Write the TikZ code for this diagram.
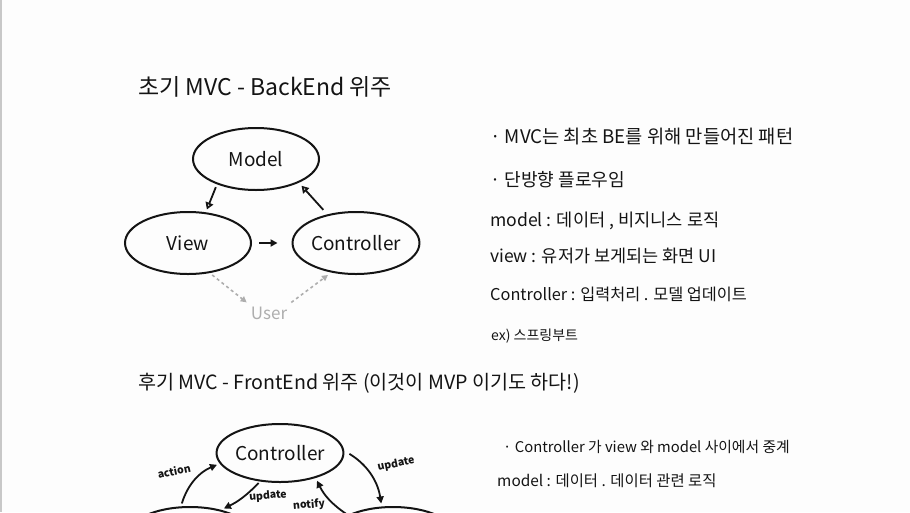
\documentclass[tikz,border=0pt]{standalone}
\usepackage{fontspec}
\setmainfont{Noto Sans CJK KR}
\usetikzlibrary{arrows.meta, positioning, shapes.geometric}
\definecolor{paper}{HTML}{FDFDFD}
\definecolor{edge}{HTML}{C8C8C8}
\definecolor{ink}{HTML}{141414}
\definecolor{faint}{HTML}{AEAEAE}

\begin{document}
\begin{tikzpicture}[x=1pt, y=-1pt, line width=1.8pt,
  bubble/.style={ellipse, draw=ink, line width=2pt, minimum width=126pt,
    minimum height=62pt, inner sep=0pt, text=ink, font=\fontsize{19}{22}\selectfont},
  head/.style={anchor=west, text=ink, font=\fontsize{#1}{24}\selectfont},
  note/.style={anchor=west, text=ink, font=\fontsize{#1}{20}\selectfont},
  tag/.style={text=ink, font=\fontsize{10.5}{12}\selectfont\bfseries},
  opentip/.style={-{Triangle[open, length=7pt, width=8pt]}, ink},
  fulltip/.style={-{Triangle[length=7pt, width=7pt]}, ink},
  usertip/.style={-{Triangle[length=6pt, width=6pt]}, faint, dashed, line width=1.6pt}]

% Background
\fill[paper] (0,0) rectangle (910,512);
\useasboundingbox (0,0) rectangle (910,512);
\clip (0,0) rectangle (910,512);
\draw[edge, line width=1.5pt] (0.8,0) -- (0.8,512);

% --- Early MVC (BackEnd) ---
\node[head=23] (title1) at (134,87) {초기 MVC - BackEnd 위주};

\node[bubble] (model) at (256,159) {Model};
\node[bubble] (view) at (188,243) {View};
\node[bubble] (ctrl) at (356,243) {Controller};
\node[text=faint, font=\fontsize{17}{20}\selectfont] (user) at (269,313) {User};

\draw[opentip, shorten <=3pt, shorten >=3pt] (model.213) -- (view.60);
\draw[opentip, shorten <=6pt, shorten >=4pt] (ctrl.135) -- (model.331);
\draw[fulltip, shorten <=7pt, shorten >=14pt] (view.east) -- (ctrl.west);
\draw[usertip, shorten <=3pt] (view.306) -- (user.north west);
\draw[usertip, shorten >=4pt] (user.north east) -- (ctrl.230);

% notes on the right
\node[note=18.7] (n1) at (486,137) {· MVC는 최초 BE를 위해 만들어진 패턴};
\node[note=18.1] (n2) at (486,180) {· 단방향 플로우임};
\node[note=17.6] (n3) at (486,221) {model : 데이터 , 비지니스 로직};
\node[note=17.5] (n4) at (486,256) {view : 유저가 보게되는 화면 UI};
\node[note=16.3] (n5) at (486,294) {Controller : 입력처리 . 모델 업데이트};
\node[note=14] (n6) at (487,336) {ex) 스프링부트};

% --- Late MVC (FrontEnd) ---
\node[head=19.6] (title2) at (134,383) {후기 MVC - FrontEnd 위주 (이것이 MVP 이기도 하다!)};

\node[bubble, minimum height=58pt] (fctrl) at (280,453) {Controller};
\node[bubble, minimum height=58pt] (fview) at (190,536) {};
\node[bubble, minimum height=58pt] (fmodel) at (393,536) {};

\draw[fulltip, shorten <=3pt, shorten >=3pt] (fview.107) to[bend left=25] (fctrl.190);
\draw[fulltip, shorten <=6pt, shorten >=3pt] (fctrl.2) to[bend left=25] (fmodel.111);
\draw[fulltip, shorten <=2pt, shorten >=3pt] (fctrl.235) to[bend left=10] (fview.40);
\draw[fulltip, shorten <=2pt, shorten >=3pt] (fmodel.155) to[bend left=15] (fctrl.325);

\node[tag, rotate=12] (act) at (174,471) {action};
\node[tag, rotate=12] (upd1) at (396,464) {update};
\node[tag, rotate=5] (upd2) at (268,496) {update};
\node[tag, rotate=5] (ntf) at (309,505) {notify};

\node[note=14.8] (m1) at (499,447) {· Controller 가 view 와 model 사이에서 중계};
\node[note=15.4] (m2) at (493,481) {model : 데이터 . 데이터 관련 로직};

\end{tikzpicture}
\end{document}
